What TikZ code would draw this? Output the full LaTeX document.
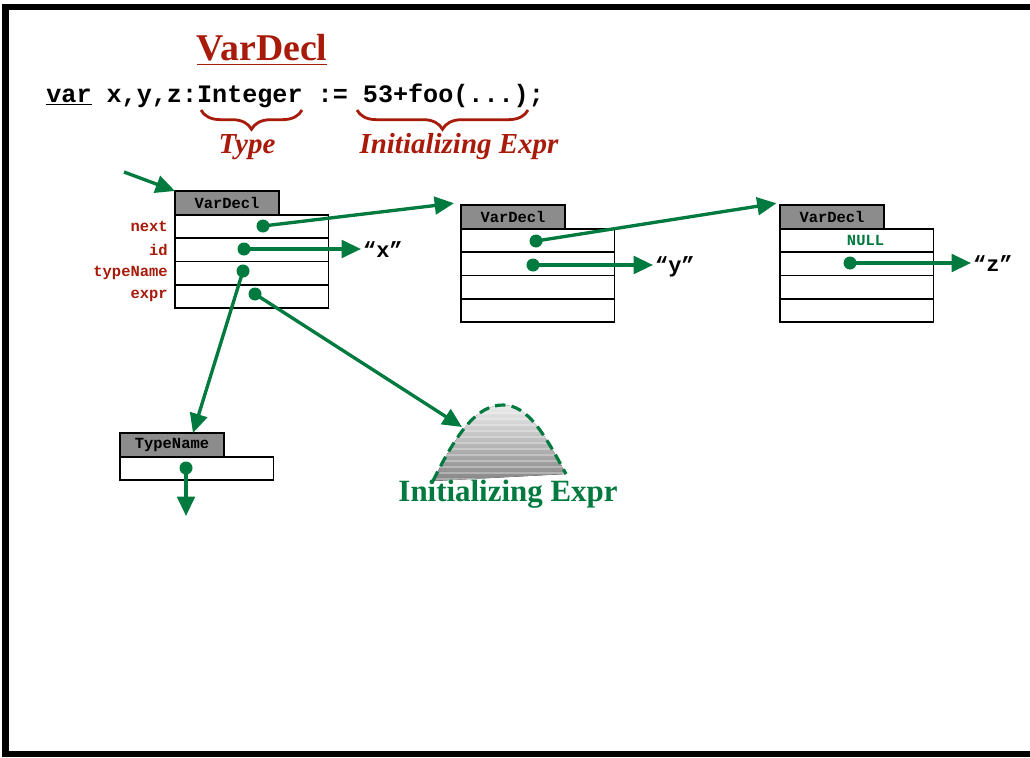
\documentclass[tikz,border=0pt]{standalone}
\usepackage{fontspec}
\setmainfont{Liberation Serif}
\setmonofont{Liberation Mono}
\usetikzlibrary{arrows.meta,positioning,decorations.pathreplacing}
\definecolor{astred}{RGB}{168,26,10}
\definecolor{astgreen}{RGB}{0,122,62}
\definecolor{hdrgray}{RGB}{140,140,140}
\tikzset{
  hdr/.style={draw,line width=1.1pt,fill=hdrgray,outer sep=0pt,inner sep=0pt,
    minimum width=2.08cm,minimum height=0.48cm,
    font=\ttfamily\bfseries\fontsize{8.8}{10}\selectfont},
  fld/.style={draw,line width=1.1pt,fill=white,outer sep=0pt,inner sep=0pt,
    minimum width=3.07cm,minimum height=0.465cm,
    font=\ttfamily\bfseries\fontsize{8.8}{10}\selectfont},
  lbl/.style={text=astred,inner sep=0pt,font=\ttfamily\bfseries\fontsize{8.8}{10}\selectfont},
  str/.style={inner sep=1pt,font=\ttfamily\bfseries\fontsize{12.5}{14}\selectfont},
  ptr/.style={astgreen,line width=1.9pt,-{Triangle[length=11pt,width=10pt]}},
  dot/.style={circle,fill=astgreen,inner sep=0pt,minimum size=7.4pt},
  brc/.style={astred,line width=1.6pt,decorate,decoration={brace,mirror,amplitude=11pt}},
}
\begin{document}
\begin{tikzpicture}[x=0.02cm,y=-0.02cm]
  \useasboundingbox (0,0) rectangle (1030,757);
  \draw[line width=3.8pt] (1030,7) -- (5.5,7) -- (5.5,754) -- (1030,754);

  % the declaration
  \node[text=astred,anchor=base,inner sep=0pt,font=\bfseries\fontsize{21.5}{24}\selectfont]
    (title) at (262,61) {\underline{VarDecl}};
  \node[anchor=base west,inner sep=0pt,font=\ttfamily\bfseries\fontsize{14.3}{16}\selectfont]
    (code) at (46,102) {\underline{var} x,y,z:Integer := 53+foo(...);};
  \draw[brc] (201,110) -- (302,110);
  \draw[brc] (357,110) -- (528,110);
  \node[text=astred,font=\bfseries\itshape\fontsize{16.5}{18}\selectfont] (type) at (247,147) {Type};
  \node[text=astred,font=\bfseries\itshape\fontsize{16.5}{18}\selectfont] (init) at (459,147) {Initializing Expr};

  % first VarDecl
  \node[hdr,anchor=north west] (d1h) at (175,191) {VarDecl};
  \node[fld,anchor=north west] (d1a) at (d1h.south west) {};
  \node[fld,below=0pt of d1a] (d1b) {};
  \node[fld,below=0pt of d1b] (d1c) {};
  \node[fld,below=0pt of d1c] (d1d) {};
  \node[lbl,left=0.14cm of d1a] {next};
  \node[lbl,left=0.14cm of d1b] {id};
  \node[lbl,left=0.14cm of d1c] {typeName};
  \node[lbl,left=0.14cm of d1d] {expr};

  % second VarDecl
  \node[hdr,anchor=north west] (d2h) at (461,205) {VarDecl};
  \node[fld,anchor=north west] (d2a) at (d2h.south west) {};
  \node[fld,below=0pt of d2a] (d2b) {};
  \node[fld,below=0pt of d2b] (d2c) {};
  \node[fld,below=0pt of d2c] (d2d) {};

  % third VarDecl
  \node[hdr,anchor=north west] (d3h) at (780,205) {VarDecl};
  \node[fld,anchor=north west,text=astgreen] (d3a) at (d3h.south west) {\hspace{10pt}NULL};
  \node[fld,below=0pt of d3a] (d3b) {};
  \node[fld,below=0pt of d3b] (d3c) {};
  \node[fld,below=0pt of d3c] (d3d) {};

  % type name
  \node[hdr,anchor=north west] (t1h) at (120,433) {TypeName};
  \node[fld,anchor=north west] (t1a) at (t1h.south west) {};

  % initializing expression
  \fill[top color=gray!15,bottom color=gray!95]
    (433,481) .. controls (458,430) and (478,405) .. (503,405)
    .. controls (528,405) and (545,435) .. (566,474) -- cycle;
  \begin{scope}
    \clip (433,481) .. controls (458,430) and (478,405) .. (503,405)
      .. controls (528,405) and (545,435) .. (566,474) -- cycle;
    \foreach \yy in {413,419,...,479}
      \draw[white,opacity=0.3,line width=0.7pt] (425,\yy) -- (575,\yy);
  \end{scope}
  \draw[astgreen,line width=1.8pt,dash pattern=on 6pt off 3.5pt]
    (433,481) .. controls (458,430) and (478,405) .. (503,405)
    .. controls (528,405) and (545,435) .. (566,474);
  \node[text=astgreen,font=\bfseries\fontsize{17.6}{20}\selectfont] (iexpr) at (508,494) {Initializing Expr};

  % strings
  \node[str,anchor=west] (sx) at (361,250) {“x”};
  \node[str,anchor=west] (sy) at (653,267) {“y”};
  \node[str,anchor=west] (sz) at (971,264) {“z”};

  % pointer dots
  \node[dot] (p1n) at (263,226) {};
  \node[dot] (p1i) at (244,249) {};
  \node[dot] (p1t) at (243,271) {};
  \node[dot] (p1e) at (255,294) {};
  \node[dot] (p2n) at (536,241) {};
  \node[dot] (p2i) at (533,265) {};
  \node[dot] (p3i) at (850,263) {};
  \node[dot] (p4t) at (186,468) {};
  \coordinate (in) at (124,172);
  \coordinate (ie) at (462,427);
  \coordinate (tdown) at (186,516);

  \begin{scope}[ptr]
    \draw (in) to (d1h.north west);
    \draw (p1n.center) to ([xshift=-4pt,yshift=1pt]d2h.north west);
    \draw (p1i.center) to (p1i.center -| sx.west);
    \draw (p1t.center) to ([xshift=0.42cm]t1h.north);
    \draw (p1e.center) to (ie);
    \draw (p2n.center) to ([xshift=-2pt,yshift=1pt]d3h.north west);
    \draw (p2i.center) to (p2i.center -| sy.west);
    \draw (p3i.center) to (p3i.center -| sz.west);
    \draw (p4t.center) to (tdown);
  \end{scope}
\end{tikzpicture}
\end{document}
